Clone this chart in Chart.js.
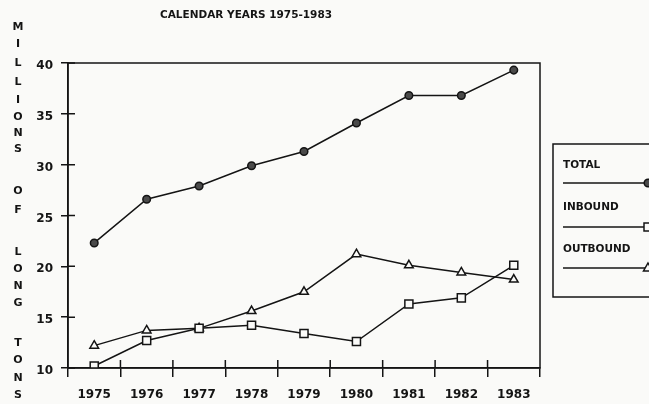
<!DOCTYPE html>
<html>
<head>
<meta charset="utf-8">
<script src="https://cdn.jsdelivr.net/npm/chart.js@4.4.1/dist/chart.umd.min.js"></script>
<style>
  body { margin: 0; background: #fafaf8; }
  #wrap { width: 649px; height: 404px; }
</style>
</head>
<body>
<div id="wrap"><canvas id="line-chart" width="649" height="404"></canvas></div>
<script>
var years = ["1975", "1976", "1977", "1978", "1979", "1980", "1981", "1982", "1983"];
var total = [22.3, 26.6, 27.9, 29.9, 31.3, 34.1, 36.8, 36.8, 39.3];
var inbound = [10.2, 12.7, 13.9, 14.2, 13.4, 12.6, 16.3, 16.9, 20.1];
var outbound = [12.2, 13.7, 13.9, 15.6, 17.5, 21.2, 20.1, 19.4, 18.7];
var chartTitle = "CALENDAR YEARS 1975-1983";
var axisWords = ["MILLIONS", "OF", "LONG", "TONS"];

var ink = "#141414";

// letters of the vertical y title, one row each (y centre)
var letterRows = [27, 44, 63, 82, 100, 117, 133, 149, 191, 210, 252, 269, 286, 303, 343, 360, 378, 395];

function marker(ctx, style, x, y) {
  ctx.beginPath();
  if (style == "circle") {
    ctx.arc(x, y, 3.8, 0, Math.PI * 2);
    ctx.fillStyle = "#4a4a4a";
    ctx.fill();
  } else if (style == "rect") {
    ctx.rect(x - 4, y - 4, 8, 8);
    ctx.fillStyle = "#fafaf8";
    ctx.fill();
  } else {
    ctx.moveTo(x, y - 5);
    ctx.lineTo(x + 4.5, y + 3);
    ctx.lineTo(x - 4.5, y + 3);
    ctx.closePath();
    ctx.fillStyle = "#fafaf8";
    ctx.fill();
  }
  ctx.stroke();
}

var paperPlugin = {
  id: "paper",
  beforeDraw: function(chart) {
    var ctx = chart.ctx;
    ctx.save();
    ctx.fillStyle = "#fafaf8";
    ctx.fillRect(0, 0, chart.width, chart.height);
    ctx.restore();
  },
  afterDraw: function(chart) {
    var ctx = chart.ctx;
    var a = chart.chartArea;
    var xs = chart.scales.x;
    var ys = chart.scales.y;
    ctx.save();
    ctx.strokeStyle = ink;
    ctx.lineWidth = 1.5;
    ctx.strokeRect(a.left, a.top, a.right - a.left, a.bottom - a.top);

    // inner halves of the tick marks
    ctx.beginPath();
    ys.ticks.forEach(function(t) {
      var py = ys.getPixelForValue(t.value);
      ctx.moveTo(a.left, py);
      ctx.lineTo(a.left + 7, py);
    });
    for (var i = 1; i < years.length; i++) {
      var px = (xs.getPixelForValue(i - 1) + xs.getPixelForValue(i)) / 2;
      ctx.moveTo(px, a.bottom);
      ctx.lineTo(px, a.bottom - 8);
    }
    ctx.stroke();

    // title
    ctx.fillStyle = ink;
    ctx.font = "bold 10.5px 'DejaVu Sans'";
    ctx.textAlign = "center";
    ctx.textBaseline = "middle";
    ctx.fillText(chartTitle, 246, 15);

    // vertical axis title
    ctx.font = "bold 11px 'DejaVu Sans'";
    var letters = axisWords.join("").split("");
    letters.forEach(function(ch, k) {
      ctx.fillText(ch, 18, letterRows[k]);
    });

    // legend box
    ctx.lineWidth = 1.5;
    ctx.strokeRect(553, 144, 120, 153);
    var items = [["TOTAL", "circle", 165, 183], ["INBOUND", "rect", 207, 227], ["OUTBOUND", "triangle", 249, 268]];
    ctx.textAlign = "left";
    items.forEach(function(it) {
      ctx.fillStyle = ink;
      ctx.font = "bold 10.5px 'DejaVu Sans'";
      ctx.fillText(it[0], 563, it[2]);
      ctx.beginPath();
      ctx.moveTo(563, it[3]);
      ctx.lineTo(645, it[3]);
      ctx.stroke();
      marker(ctx, it[1], 648, it[3]);
    });
    ctx.restore();
  }
};

new Chart(document.getElementById("line-chart"), {
  type: "line",
  data: {
    labels: years,
    datasets: [
      { label: "TOTAL", data: total, pointStyle: "circle", pointRadius: 3.8, pointBackgroundColor: "#4a4a4a" },
      { label: "INBOUND", data: inbound, pointStyle: "rect", pointRadius: 5.7, pointBackgroundColor: "#fafaf8" },
      { label: "OUTBOUND", data: outbound, pointStyle: "triangle", pointRadius: 5, pointBackgroundColor: "#fafaf8" }
    ].map(function(d) {
      d.borderColor = ink;
      d.borderWidth = 1.5;
      d.pointBorderColor = ink;
      d.pointBorderWidth = 1.5;
      d.tension = 0;
      d.fill = false;
      return d;
    })
  },
  options: {
    responsive: false,
    animation: false,
    layout: { padding: { left: 0, right: 109, top: 63, bottom: 0 } },
    plugins: { legend: { display: false }, tooltip: { enabled: false } },
    scales: {
      x: {
        offset: true,
        afterFit: function(s) { s.height = 36; },
        grid: { offset: true, drawOnChartArea: false, tickLength: 9, color: ink, lineWidth: 1.5 },
        border: { color: ink, width: 1.5 },
        ticks: { color: ink, font: { family: "DejaVu Sans", weight: "bold", size: 12 }, padding: 11, maxRotation: 0 }
      },
      y: {
        min: 10,
        max: 40,
        afterFit: function(s) { s.width = 68; },
        grid: { drawOnChartArea: false, tickLength: 7, color: ink, lineWidth: 1.5 },
        border: { color: ink, width: 1.5 },
        ticks: { stepSize: 5, color: ink, font: { family: "DejaVu Sans", weight: "bold", size: 12 }, padding: 8, labelOffset: 3 }
      }
    }
  },
  plugins: [paperPlugin]
});
</script>
</body>
</html>
